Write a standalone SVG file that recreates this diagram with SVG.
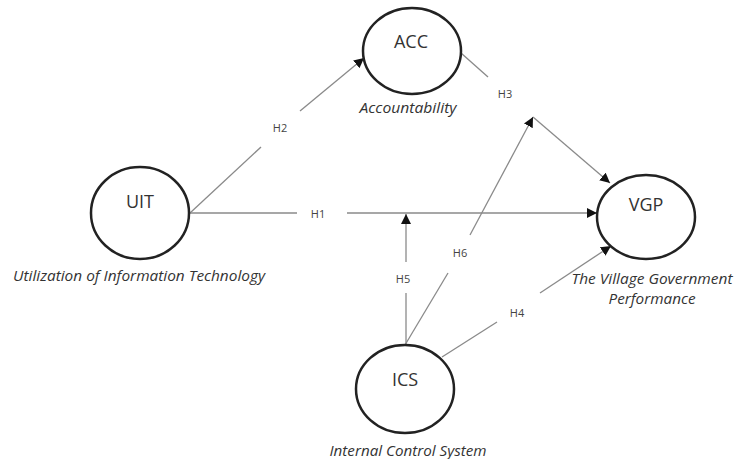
<svg xmlns="http://www.w3.org/2000/svg" width="736" height="459" viewBox="0 0 736 459">
<style>
.node{fill:#fff;stroke:#222;stroke-width:2.5}
.abbr{font-family:"Open Sans","Liberation Sans",sans-serif;font-size:18px;fill:#333;text-anchor:middle}
.cap{font-family:"Open Sans","Liberation Sans",sans-serif;font-size:15px;font-style:italic;fill:#333;text-anchor:middle}
.cap2{font-size:14px}
.lbl{font-family:"Open Sans","Liberation Sans",sans-serif;font-size:11px;fill:#444;text-anchor:middle;dominant-baseline:central}
.edge{stroke:#8a8a8a;stroke-width:1.3;fill:none}
</style>
<defs>
<marker id="ah" viewBox="0 0 10 10" refX="10" refY="5" markerWidth="10" markerHeight="10" markerUnits="userSpaceOnUse" orient="auto">
<path d="M0,0 L10,5 L0,10 z" fill="#111"/>
</marker>
</defs>
<rect width="736" height="459" fill="#fff"/>
<g id="connectors">
<line class="edge" x1="190" y1="213" x2="261" y2="147"/>
<line class="edge" x1="300" y1="111" x2="364" y2="58" marker-end="url(#ah)"/>
<text class="lbl" x="280" y="127">H2</text>
<line class="edge" x1="190" y1="213" x2="297" y2="213"/>
<line class="edge" x1="347" y1="213" x2="597" y2="213" marker-end="url(#ah)"/>
<text class="lbl" x="318" y="213">H1</text>
<line class="edge" x1="461" y1="53" x2="488" y2="77"/>
<line class="edge" x1="533" y1="117" x2="610" y2="183" marker-end="url(#ah)"/>
<text class="lbl" x="505" y="93">H3</text>
<line class="edge" x1="405" y1="345" x2="448" y2="273"/>
<line class="edge" x1="470" y1="235" x2="533" y2="117" marker-end="url(#ah)"/>
<text class="lbl" x="460" y="252">H6</text>
<line class="edge" x1="406" y1="345" x2="406" y2="293"/>
<line class="edge" x1="406" y1="262" x2="406" y2="214" marker-end="url(#ah)"/>
<text class="lbl" x="403" y="278">H5</text>
<line class="edge" x1="442" y1="357" x2="497" y2="322"/>
<line class="edge" x1="540" y1="293" x2="611" y2="246" marker-end="url(#ah)"/>
<text class="lbl" x="517" y="312">H4</text>
</g>
<g id="ACC">
<ellipse class="node" cx="412" cy="51" rx="49" ry="43"/>
<text class="abbr" x="411" y="48">ACC</text>
<text class="cap" x="408" y="113" textLength="97" lengthAdjust="spacingAndGlyphs">Accountability</text>
</g>
<g id="UIT">
<ellipse class="node" cx="140" cy="213" rx="49" ry="46"/>
<text class="abbr" x="140" y="208">UIT</text>
<text class="cap" x="139" y="281" textLength="252" lengthAdjust="spacingAndGlyphs">Utilization of Information Technology</text>
</g>
<g id="VGP">
<ellipse class="node" cx="646" cy="217" rx="49" ry="42"/>
<text class="abbr" x="646" y="211">VGP</text>
<text class="cap cap2" x="652" y="284" textLength="161" lengthAdjust="spacingAndGlyphs">The Village Government</text>
<text class="cap cap2" x="652" y="304" textLength="87" lengthAdjust="spacingAndGlyphs">Performance</text>
</g>
<g id="ICS">
<ellipse class="node" cx="405" cy="389" rx="49" ry="44"/>
<text class="abbr" x="405" y="386">ICS</text>
<text class="cap" x="408" y="456" textLength="157" lengthAdjust="spacingAndGlyphs">Internal Control System</text>
</g>
</svg>
